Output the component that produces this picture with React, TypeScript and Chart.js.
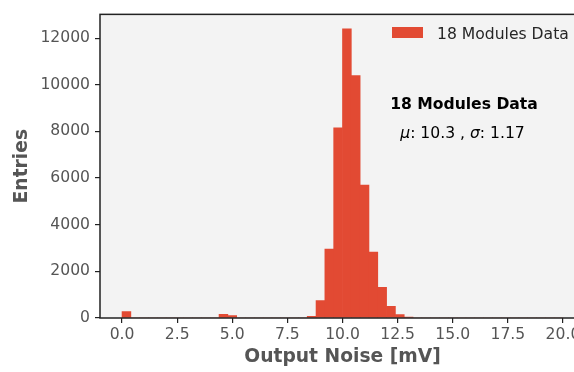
import React, { useEffect, useRef } from "react";
import { Chart, registerables } from "chart.js";

Chart.register(...registerables);

const binCenters = [
  0.2, 0.6, 1.0, 1.4, 1.8, 2.2, 2.6, 3.0, 3.4, 3.8,
  4.2, 4.6, 5.0, 5.4, 5.8, 6.2, 6.6, 7.0, 7.4, 7.8,
  8.2, 8.6, 9.0, 9.4, 9.8, 10.2, 10.6, 11.0, 11.4, 11.8,
  12.2, 12.6, 13.0, 13.4, 13.8, 14.2, 14.6, 15.0, 15.4, 15.8,
  16.2, 16.6, 17.0, 17.4, 17.8, 18.2, 18.6, 19.0, 19.4, 19.8,
];
const entries = [
  280, 0, 0, 0, 0, 0, 0, 0, 0, 0,
  0, 160, 100, 0, 0, 0, 0, 0, 0, 0,
  0, 70, 750, 2950, 8150, 12400, 10400, 5700, 2830, 1320,
  500, 145, 40, 0, 0, 0, 0, 0, 0, 0,
  0, 0, 0, 0, 0, 0, 0, 0, 0, 0,
];
const xTickValues = [0, 2.5, 5, 7.5, 10, 12.5, 15, 17.5, 20];
const yTickValues = [0, 2000, 4000, 6000, 8000, 10000, 12000];
const seriesLabel = "18 Modules Data";
const annotationTitle = "18 Modules Data";
const muValue = "10.3";
const sigmaValue = "1.17";

const FONT = "'DejaVu Sans', sans-serif";
const BAR = "#E24A33";

export default function App() {
  const ref = useRef<HTMLCanvasElement | null>(null);
  useEffect(() => {
    document.body.style.margin = "0";
    const canvas = ref.current!;
    const decor = {
      id: "decor",
      beforeDraw(chart: any) {
        const { ctx, chartArea: a } = chart;
        ctx.save();
        ctx.fillStyle = "#F3F3F3";
        ctx.fillRect(a.left, a.top, a.right - a.left, a.bottom - a.top);
        ctx.restore();
      },
      afterDatasetsDraw(chart: any) {
        const { ctx, chartArea: a } = chart;
        ctx.save();
        ctx.strokeStyle = "#222";
        ctx.lineWidth = 1.5;
        ctx.strokeRect(a.left, a.top, a.right - a.left, a.bottom - a.top);
        ctx.restore();
      },
      afterDraw(chart: any) {
        const { ctx } = chart;
        ctx.save();
        // legend
        ctx.fillStyle = BAR;
        ctx.fillRect(392, 27, 31, 11);
        ctx.fillStyle = "#262626";
        ctx.font = `15.6px ${FONT}`;
        ctx.textBaseline = "alphabetic";
        ctx.textAlign = "left";
        ctx.fillText(seriesLabel, 437, 38.5);
        // annotation
        ctx.fillStyle = "#000";
        ctx.font = `bold 15.6px ${FONT}`;
        ctx.textAlign = "center";
        ctx.fillText(annotationTitle, 464, 109);
        const parts: [string, boolean][] = [
          ["\u03bc", true],
          [": " + muValue + " , ", false],
          ["\u03c3", true],
          [": " + sigmaValue, false],
        ];
        ctx.textAlign = "left";
        let total = 0;
        const widths = parts.map(([t, it]) => {
          ctx.font = `${it ? "italic " : ""}15.6px ${FONT}`;
          const w = ctx.measureText(t).width;
          total += w;
          return w;
        });
        let x = 462.5 - total / 2;
        parts.forEach(([t, it], i) => {
          ctx.font = `${it ? "italic " : ""}15.6px ${FONT}`;
          ctx.fillText(t, x, 138.3);
          x += widths[i];
        });
        ctx.restore();
      },
    };
    const chart = new Chart(canvas, {
      type: "bar",
      data: {
        datasets: [
          {
            label: seriesLabel,
            data: binCenters.map((c, i) => ({ x: c, y: entries[i] })),
            backgroundColor: BAR,
            borderWidth: 0,
            barPercentage: 1,
            categoryPercentage: 1,
          },
        ],
      },
      options: {
        responsive: false,
        animation: false,
        layout: { padding: { left: 0, top: 13, right: 35, bottom: 0 } },
        plugins: { legend: { display: false }, tooltip: { enabled: false } },
        scales: {
          x: {
            type: "linear",
            min: -1,
            max: 21,
            offset: false,
            afterBuildTicks: (s: any) => {
              s.ticks = xTickValues.map((v) => ({ value: v }));
            },
            afterFit: (s: any) => {
              s.height = 54;
            },
            ticks: {
              autoSkip: false,
              maxRotation: 0,
              color: "#555",
              padding: 3,
              font: { family: FONT, size: 15.6 },
              callback: (v: any) => Number(v).toFixed(1),
            },
            grid: { offset: false, drawOnChartArea: false, drawTicks: true, tickLength: 5, color: "#222", lineWidth: 1.2 },
            border: { display: false },
            title: {
              display: true,
              text: "Output Noise [mV]",
              color: "#555",
              font: { family: FONT, size: 18.7, weight: "bold" },
              padding: { top: 0, bottom: 4 },
            },
          },
          y: {
            min: 0,
            max: 13020,
            afterBuildTicks: (s: any) => {
              s.ticks = yTickValues.map((v) => ({ value: v }));
            },
            afterFit: (s: any) => {
              s.width = 100;
            },
            ticks: {
              color: "#555",
              padding: 5,
              font: { family: FONT, size: 15.6 },
              callback: (v: any) => String(v),
            },
            grid: { offset: false, drawOnChartArea: false, drawTicks: true, tickLength: 5, color: "#222", lineWidth: 1.2 },
            border: { display: false },
            title: {
              display: true,
              text: "Entries",
              color: "#555",
              font: { family: FONT, size: 18.7, weight: "bold" },
              padding: { top: 11, bottom: 0 },
            },
          },
        },
      },
      plugins: [decor],
    } as any);
    return () => chart.destroy();
  }, []);
  return (
    <div style={{ width: 574, height: 372, overflow: "hidden", background: "#fff" }}>
      <canvas ref={ref} width={620} height={372} style={{ display: "block", width: 620, height: 372 }} />
    </div>
  );
}
